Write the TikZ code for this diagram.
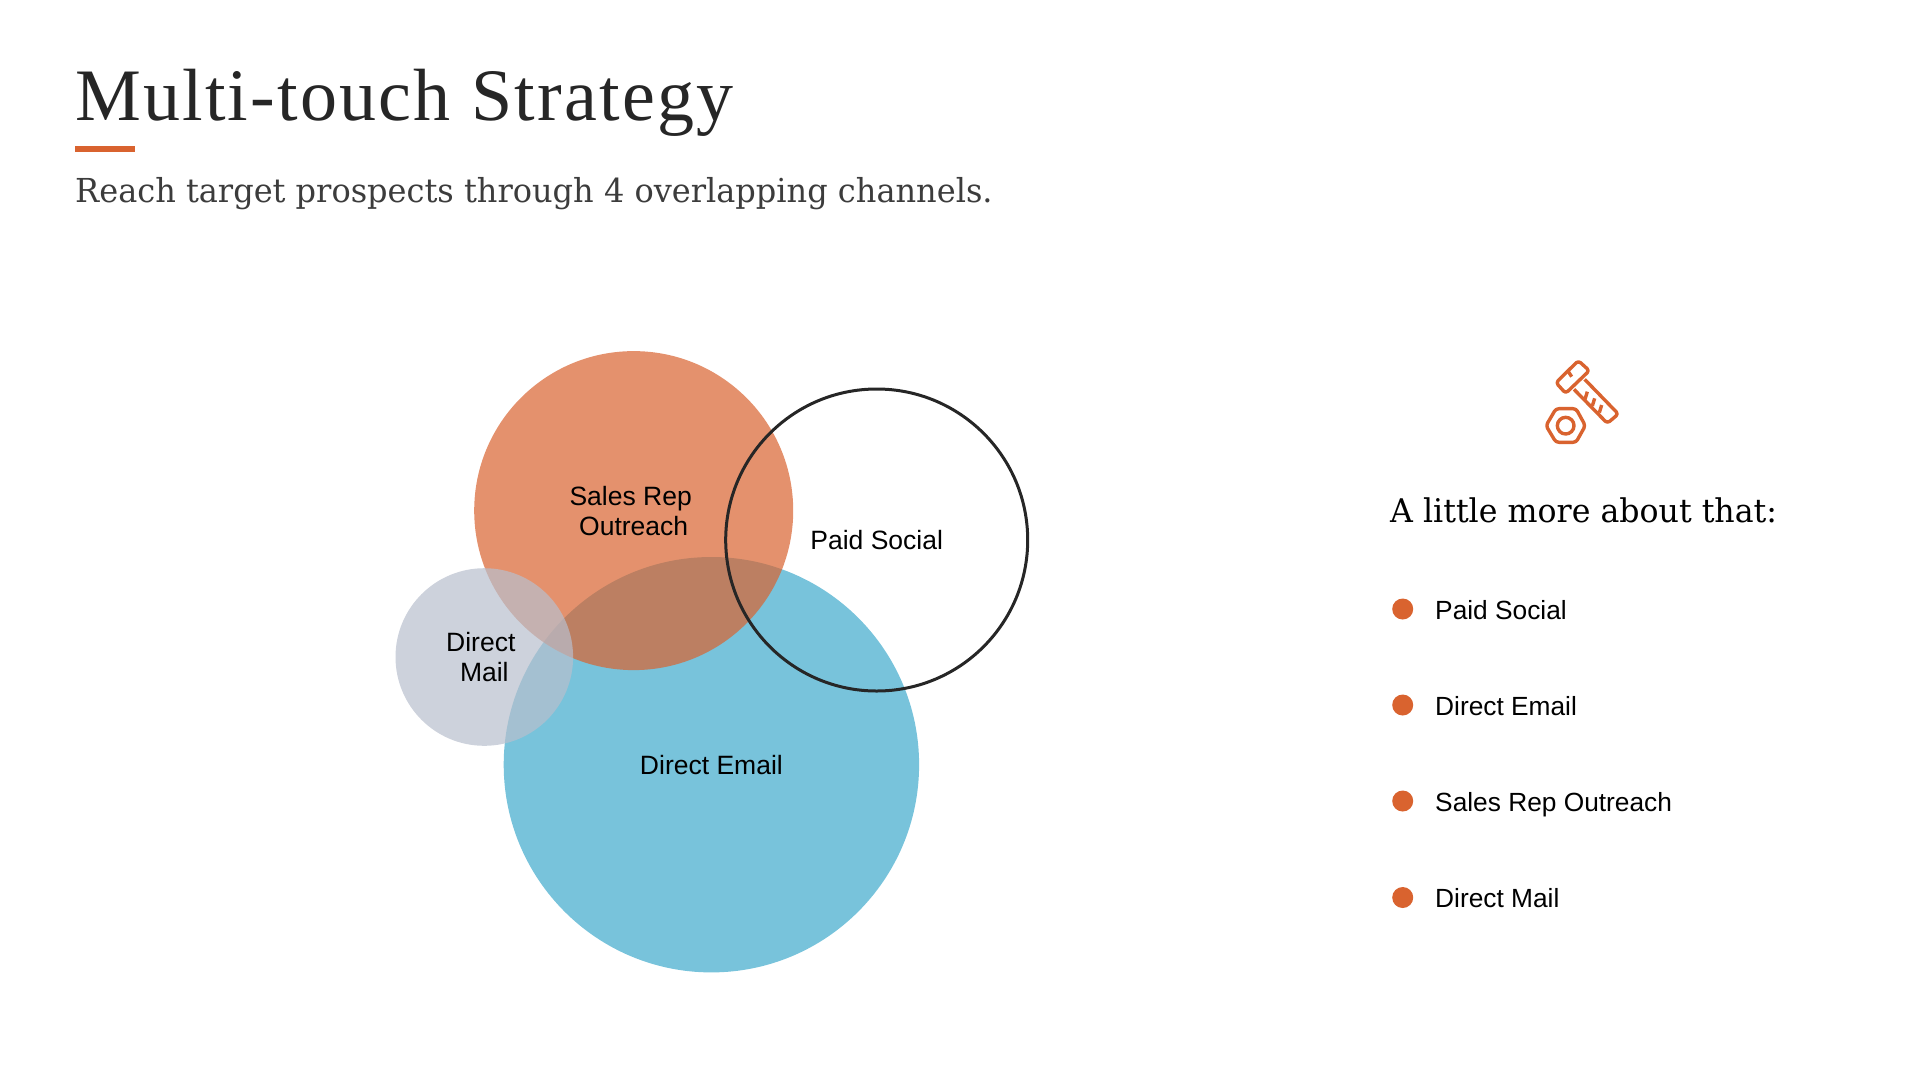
\documentclass[tikz,border=0pt]{standalone}
\usepackage{fontspec}
\setmainfont{Liberation Sans}
\newfontfamily\titlefont[LetterSpace=3]{Liberation Serif}
\newfontfamily\slabfont[FakeStretch=0.97]{DejaVu Serif}
\definecolor{rust}{HTML}{D9632F}
\definecolor{sky}{HTML}{78C3DB}
\definecolor{mist}{HTML}{B8BFCD}
\definecolor{ink}{HTML}{262626}
\tikzset{
  venn/.style={circle,inner sep=0pt,align=center,text=black,font=\fontsize{26.5}{30}\selectfont},
  channel/.style={anchor=base west,inner sep=0pt,text=black,font=\fontsize{26.3}{31}\selectfont},
  dot/.style={circle,fill=rust,minimum size=21,inner sep=0pt},
  iconline/.style={draw=rust,line width=3.4pt,line join=round,rounded corners=3pt}
}
\begin{document}
\begin{tikzpicture}[x=1pt,y=-1pt]
\useasboundingbox (0,0) rectangle (1920,1080);

\node [inner sep=0pt,anchor=base west,text=ink,font=\titlefont\fontsize{74}{80}\selectfont] (title) at (75,120) {Multi-touch Strategy};
\fill [rust] (75,146) rectangle (135,152);
\node [inner sep=0pt,anchor=base west,text=ink!90,font=\slabfont\fontsize{33}{40}\selectfont] (subtitle) at (75,202) {Reach target prospects through 4 overlapping channels.};

\node [venn,minimum size=415.4,fill=sky] (email) at (711.4,764.7) {Direct Email};
\node [venn,minimum size=319,fill=rust,fill opacity=0.7,text opacity=1] (sales) at (633.7,510.6) {Sales Rep\hspace*{6pt}\\Outreach};
\node [venn,minimum size=177.6,fill=mist,fill opacity=0.7,text opacity=1] (mail) at (484.3,657) {Direct\hspace*{7pt}\\Mail};
\node [venn,minimum size=302,draw=ink,line width=3pt] (paid) at (876.7,540) {Paid Social};

\begin{scope}[shift={(1500,340)},x=0.3333pt,y=-0.3333pt]
\draw [iconline] (235,62) -- (268,92) -- (197,160) -- (168,128) -- cycle;
\draw [iconline] (222,148) -- (322,250) -- (355,222) -- (254,118);
\draw [iconline] (205,95) -- (215,110);
\draw [iconline] (255,178) -- (262,155);
\draw [iconline] (277,198) -- (284,175);
\draw [iconline] (298,218) -- (305,195);
\draw [iconline] (138,257) -- (168,206) -- (228,206) -- (256,257) -- (228,307) -- (168,307) -- cycle;
\draw [rust,line width=3.4pt] (197,257) circle (25);
\end{scope}

\node [inner sep=0pt,anchor=base west,text=black,font=\slabfont\fontsize{32.6}{38}\selectfont] (more) at (1390,522) {A little more about that:};

\node [dot] (dota) at (1402.7,609) {};
\node [dot] (dotb) at (1402.7,705) {};
\node [dot] (dotc) at (1402.7,801) {};
\node [dot] (dotd) at (1402.7,897.5) {};
\node [channel] (texta) at (1435,619) {Paid Social};
\node [channel] (textb) at (1435,715) {Direct Email};
\node [channel] (textc) at (1435,811.5) {Sales Rep Outreach};
\node [channel] (textd) at (1435,907.5) {Direct Mail};

\end{tikzpicture}
\end{document}
